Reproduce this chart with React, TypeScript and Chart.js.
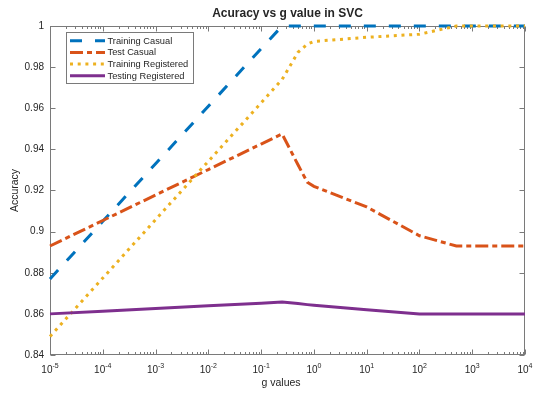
import React, { useEffect, useRef } from "react";
import { Chart, registerables } from "chart.js";

Chart.register(...registerables);

// ---- data ----
const gValues = [1e-5, 1e-4, 1e-3, 1e-2, 1e-1, 0.25, 0.5, 0.75, 1, 10, 100, 500, 1000, 1e4];
const trainingCasual = [0.877, 0.905, 0.933, 0.961, 0.989, 1.0, 1.0, 1.0, 1.0, 1.0, 1.0, 1.0, 1.0, 1.0];
const testCasual = [0.893, 0.9054, 0.9178, 0.9302, 0.9426, 0.9475, 0.9325, 0.924, 0.922, 0.912, 0.898, 0.893, 0.893, 0.893];
const trainingRegistered = [0.849, 0.8774, 0.9058, 0.9342, 0.9626, 0.974, 0.9872, 0.9912, 0.9925, 0.9945, 0.996, 1.0, 1.0, 1.0];
const testingRegistered = [0.86, 0.8613, 0.8626, 0.8639, 0.8652, 0.8658, 0.865, 0.8645, 0.8642, 0.862, 0.86, 0.86, 0.86, 0.86];

const seriesNames = ["Training Casual", "Test Casual", "Training Registered", "Testing Registered"];
const decadeExponents = [-5, -4, -3, -2, -1, 0, 1, 2, 3, 4];
const yTickValues = [0.84, 0.86, 0.88, 0.9, 0.92, 0.94, 0.96, 0.98, 1];
const titleText = "Acuracy vs g value in SVC";
const xLabelText = "g values";
const yLabelText = "Accuracy";

const FONT = '"Liberation Sans", Arial, Helvetica, sans-serif';
const AXIS_COLOR = "#7a7a7a";
const TEXT_COLOR = "#262626";

export default function App() {
  const ref = useRef<HTMLCanvasElement>(null);

  useEffect(() => {
    document.body.style.margin = "0";
    const canvas = ref.current;
    if (!canvas) return;
    const mk = (vals: number[]) => vals.map((y, i) => ({ x: gValues[i], y }));

    const decor = {
      id: "matlabDecor",
      beforeDatasetsDraw(chart: any) {
        const { ctx, chartArea: a, scales } = chart;
        const xs = scales.x;
        const ys = scales.y;
        const L = Math.round(a.left) + 0.5;
        const R = Math.round(a.right) - 0.5;
        const T = Math.round(a.top) + 0.5;
        const B = Math.round(a.bottom) - 0.5;
        ctx.save();
        ctx.fillStyle = "#ffffff";
        ctx.fillRect(a.left, a.top, a.right - a.left, a.bottom - a.top);
        ctx.strokeStyle = AXIS_COLOR;
        ctx.lineWidth = 1;
        ctx.strokeRect(L, T, R - L, B - T);
        ctx.beginPath();
        decadeExponents.forEach((e) => {
          for (let m = 1; m <= 9; m++) {
            const v = m * Math.pow(10, e);
            if (v > xs.max * 1.0001) break;
            const px = Math.round(xs.getPixelForValue(v)) + 0.5;
            const len = m === 1 ? 5 : 2.5;
            ctx.moveTo(px, B);
            ctx.lineTo(px, B - len);
            ctx.moveTo(px, T);
            ctx.lineTo(px, T + len);
          }
        });
        yTickValues.forEach((v) => {
          const py = Math.round(ys.getPixelForValue(v)) + 0.5;
          ctx.moveTo(L, py);
          ctx.lineTo(L + 5, py);
          ctx.moveTo(R, py);
          ctx.lineTo(R - 5, py);
        });
        ctx.stroke();
        ctx.restore();
      },
      afterDraw(chart: any) {
        const { ctx, chartArea: a, scales } = chart;
        const xs = scales.x;
        ctx.save();
        ctx.fillStyle = TEXT_COLOR;
        // x tick labels 10^n
        ctx.textAlign = "left";
        ctx.textBaseline = "alphabetic";
        decadeExponents.forEach((e) => {
          const px = xs.getPixelForValue(Math.pow(10, e));
          ctx.font = `10px ${FONT}`;
          const wb = ctx.measureText("10").width;
          ctx.font = `7px ${FONT}`;
          const ex = String(e);
          const we = ctx.measureText(ex).width;
          const x0 = px - (wb + we) / 2;
          ctx.font = `10px ${FONT}`;
          ctx.fillText("10", x0, a.bottom + 18);
          ctx.font = `7px ${FONT}`;
          ctx.fillText(ex, x0 + wb, a.bottom + 12.5);
        });
        // title
        ctx.textAlign = "center";
        ctx.textBaseline = "middle";
        ctx.font = `bold 12px ${FONT}`;
        ctx.fillText(titleText, (a.left + a.right) / 2, 14);
        // x label
        ctx.font = `10.5px ${FONT}`;
        ctx.fillText(xLabelText, 281, 383);
        // y label
        ctx.save();
        ctx.translate(15.5, (a.top + a.bottom) / 2);
        ctx.rotate(-Math.PI / 2);
        ctx.fillText(yLabelText, 0, 0);
        ctx.restore();
        // legend
        const lx = 66.5, ly = 32.5, lw = 127, lh = 51;
        ctx.fillStyle = "#ffffff";
        ctx.fillRect(lx, ly, lw, lh);
        ctx.strokeStyle = AXIS_COLOR;
        ctx.lineWidth = 1;
        ctx.strokeRect(lx, ly, lw, lh);
        chart.data.datasets.forEach((ds: any, i: number) => {
          const y = 40.7 + i * 11.7;
          ctx.save();
          ctx.strokeStyle = ds.borderColor;
          ctx.lineWidth = ds.borderWidth;
          ctx.setLineDash(ds.borderDash || []);
          ctx.beginPath();
          ctx.moveTo(70, y);
          ctx.lineTo(105, y);
          ctx.stroke();
          ctx.restore();
          ctx.fillStyle = TEXT_COLOR;
          ctx.textAlign = "left";
          ctx.textBaseline = "middle";
          ctx.font = `9.3px ${FONT}`;
          ctx.fillText(ds.label, 107.5, y + 0.5);
        });
        ctx.restore();
      },
    };

    const chart = new Chart(canvas, {
      type: "line",
      data: {
        datasets: [
          { label: seriesNames[0], data: mk(trainingCasual), borderColor: "#0072BD", borderWidth: 3, borderDash: [12, 13], order: 3 },
          { label: seriesNames[1], data: mk(testCasual), borderColor: "#D95319", borderWidth: 3, borderDash: [13, 4, 5, 4], order: 2 },
          { label: seriesNames[2], data: mk(trainingRegistered), borderColor: "#EDB120", borderWidth: 3, borderDash: [3, 4.7], order: 1 },
          { label: seriesNames[3], data: mk(testingRegistered), borderColor: "#7E2F8E", borderWidth: 3, borderDash: [], order: 0 },
        ].map((d) => ({ ...d, pointRadius: 0, pointHoverRadius: 0, tension: 0, fill: false, clip: false as any })),
      },
      options: {
        animation: false,
        responsive: true,
        maintainAspectRatio: false,
        events: [],
        layout: { padding: { top: 26, right: 8, left: 0, bottom: 0 } },
        plugins: { legend: { display: false }, title: { display: false }, tooltip: { enabled: false } },
        scales: {
          x: {
            type: "logarithmic",
            min: 1e-5,
            max: 1e4,
            grid: { display: false, drawTicks: false },
            border: { display: false },
            ticks: { display: false },
            afterFit: (s: any) => { s.height = 38; },
          },
          y: {
            type: "linear",
            min: 0.84,
            max: 1,
            grid: { display: false, drawTicks: false },
            border: { display: false },
            afterBuildTicks: (s: any) => { s.ticks = yTickValues.map((v) => ({ value: v })); },
            ticks: {
              padding: 6,
              color: TEXT_COLOR,
              font: { family: FONT, size: 10 },
              callback: (v: any) => String(Number(Number(v).toFixed(2))),
            },
            afterFit: (s: any) => { s.width = 50; },
          },
        },
      },
      plugins: [decor],
    });
    return () => chart.destroy();
  }, []);

  return (
    <div style={{ position: "absolute", left: 0, top: 0, width: 533, height: 393, background: "#fff" }}>
      <canvas ref={ref} />
    </div>
  );
}
